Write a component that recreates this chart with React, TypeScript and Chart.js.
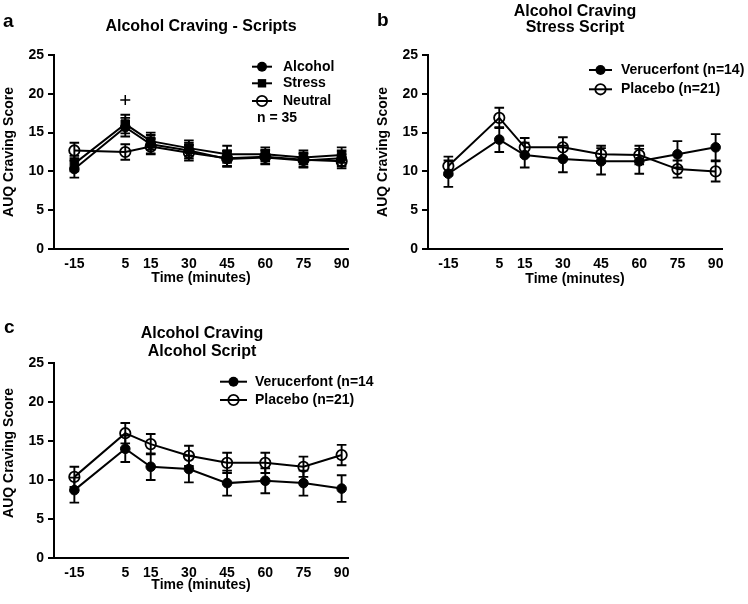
import React, { useEffect, useRef } from 'react';
import { Chart, registerables } from 'chart.js';

Chart.register(...registerables);

// ---------- data ----------
const timePoints = [-15, 5, 15, 30, 45, 60, 75, 90];
const xTickValues = [-15, 5, 15, 30, 45, 60, 75, 90];
const yMin = 0;
const yMax = 25;
const yStep = 5;

// Panel a: all scripts (n = 35)
const alcoholMean = [10.3, 15.7, 13.5, 12.7, 11.6, 11.8, 11.4, 11.7];
const alcoholSem = [1.1, 1.2, 1.2, 1.0, 1.0, 0.9, 0.9, 1.0];
const stressMean = [11.0, 16.1, 13.9, 13.0, 12.2, 12.2, 11.8, 12.1];
const stressSem = [1.0, 1.2, 1.1, 1.0, 1.1, 0.9, 0.9, 1.0];
const neutralMean = [12.7, 12.5, 13.2, 12.4, 11.7, 11.9, 11.5, 11.3];
const neutralSem = [1.0, 1.0, 1.0, 1.0, 1.0, 0.9, 0.9, 0.9];
const sigTimes = [5];
const sigValues = [19.2];

// Panel b: stress script
const stressVeruMean = [9.7, 14.1, 12.1, 11.6, 11.3, 11.3, 12.2, 13.1];
const stressVeruSem = [1.7, 1.6, 1.6, 1.7, 1.7, 1.6, 1.7, 1.7];
const stressPlaMean = [10.7, 16.9, 13.1, 13.1, 12.2, 12.1, 10.3, 10.0];
const stressPlaSem = [1.2, 1.3, 1.2, 1.3, 1.1, 1.2, 1.1, 1.3];

// Panel c: alcohol script
const alcVeruMean = [8.7, 14.0, 11.7, 11.4, 9.6, 9.9, 9.6, 8.9];
const alcVeruSem = [1.6, 1.7, 1.7, 1.7, 1.6, 1.6, 1.6, 1.7];
const alcPlaMean = [10.4, 16.0, 14.6, 13.1, 12.2, 12.2, 11.7, 13.2];
const alcPlaSem = [1.3, 1.3, 1.3, 1.3, 1.3, 1.3, 1.3, 1.3];

// ---------- helpers ----------
const FONT = '"Liberation Sans", Arial, Helvetica, sans-serif';

const toPoints = (ys: number[]) => timePoints.map((t, i) => ({ x: t, y: ys[i] }));

function series(label: string, mean: number[], sem: number[], style: 'circle' | 'rect', filled: boolean) {
  return {
    label,
    data: toPoints(mean),
    errorBars: sem,
    borderColor: '#000',
    borderWidth: 2,
    fill: false,
    tension: 0,
    pointStyle: style,
    pointRadius: style === 'rect' ? 6 : filled ? 4.8 : 5.2,
    pointBorderWidth: filled ? 1 : 1.8,
    pointBackgroundColor: filled ? '#000' : 'rgba(255,255,255,0)',
    pointBorderColor: '#000',
    legendStyle: style,
    legendFilled: filled,
  };
}

type PanelSpec = {
  left: number;
  top: number;
  width: number;
  height: number;
  area: { left: number; top: number; right: number; bottom: number };
  letter: string;
  letterX: number;
  letterY: number;
  titleLines: string[];
  titleX: number;
  titleYs: number[];
  yTitleX: number;
  yTitleY: number;
  xTitleX: number;
  xTitleY: number;
  legend: { x1: number; x2: number; textX: number; ys: number[]; note?: { text: string; x: number; y: number } };
  datasets: any[];
};

const errorBarPlugin = {
  id: 'errorBars',
  afterDatasetsDraw(chart: any) {
    const ctx = chart.ctx;
    const xs = chart.scales.x;
    const ys = chart.scales.y;
    ctx.save();
    ctx.strokeStyle = '#000';
    ctx.lineWidth = 1.9;
    chart.data.datasets.forEach((ds: any) => {
      if (!ds.errorBars) return;
      ds.data.forEach((p: any, i: number) => {
        const e = ds.errorBars[i];
        const px = xs.getPixelForValue(p.x);
        const yt = ys.getPixelForValue(p.y + e);
        const yb = ys.getPixelForValue(p.y - e);
        const cap = 4.8;
        ctx.beginPath();
        ctx.moveTo(px, yt);
        ctx.lineTo(px, yb);
        ctx.moveTo(px - cap, yt);
        ctx.lineTo(px + cap, yt);
        ctx.moveTo(px - cap, yb);
        ctx.lineTo(px + cap, yb);
        ctx.stroke();
      });
    });
    ctx.restore();
  },
};

function decorPlugin(spec: PanelSpec) {
  return {
    id: 'panelDecor',
    afterDraw(chart: any) {
      const ctx = chart.ctx;
      ctx.save();
      ctx.fillStyle = '#000';
      ctx.strokeStyle = '#000';
      // panel letter
      ctx.font = `bold 19px ${FONT}`;
      ctx.textAlign = 'left';
      ctx.textBaseline = 'alphabetic';
      ctx.fillText(spec.letter, spec.letterX, spec.letterY);
      // title
      ctx.font = `bold 16px ${FONT}`;
      ctx.textAlign = 'center';
      spec.titleLines.forEach((t, i) => ctx.fillText(t, spec.titleX, spec.titleYs[i]));
      // axis titles
      ctx.font = `bold 14px ${FONT}`;
      ctx.textBaseline = 'middle';
      ctx.fillText('Time (minutes)', spec.xTitleX, spec.xTitleY);
      ctx.save();
      ctx.translate(spec.yTitleX, spec.yTitleY);
      ctx.rotate(-Math.PI / 2);
      ctx.fillText('AUQ Craving Score', 0, 0);
      ctx.restore();
      // legend
      const lg = spec.legend;
      let k = 0;
      chart.data.datasets.forEach((ds: any) => {
        if (!ds.legendStyle) return;
        const y = lg.ys[k++];
        ctx.lineWidth = 2;
        ctx.beginPath();
        ctx.moveTo(lg.x1, y);
        ctx.lineTo(lg.x2, y);
        ctx.stroke();
        const cx = (lg.x1 + lg.x2) / 2;
        if (ds.legendStyle === 'rect') {
          ctx.fillRect(cx - 4.2, y - 4.2, 8.4, 8.4);
        } else if (ds.legendFilled) {
          ctx.beginPath();
          ctx.arc(cx, y, 5, 0, Math.PI * 2);
          ctx.fill();
        } else {
          ctx.lineWidth = 1.8;
          ctx.beginPath();
          ctx.arc(cx, y, 5.2, 0, Math.PI * 2);
          ctx.stroke();
        }
        ctx.textAlign = 'left';
        ctx.textBaseline = 'middle';
        ctx.fillText(ds.label, lg.textX, y);
      });
      if (lg.note) {
        ctx.textAlign = 'left';
        ctx.fillText(lg.note.text, lg.note.x, lg.note.y);
      }
      ctx.restore();
    },
  };
}

const tickFont = { family: FONT, size: 14, weight: 'bold' as const };

function Panel({ spec }: { spec: PanelSpec }) {
  const ref = useRef<HTMLCanvasElement | null>(null);
  useEffect(() => {
    if (!ref.current) return;
    const a = spec.area;
    const chart = new Chart(ref.current, {
      type: 'line',
      data: { datasets: spec.datasets },
      options: {
        responsive: false,
        maintainAspectRatio: false,
        animation: false,
        devicePixelRatio: 1,
        layout: { padding: { top: a.top, right: spec.width - a.right, bottom: 0, left: 0 } },
        plugins: {
          legend: { display: false },
          title: { display: false },
          tooltip: { enabled: false },
        },
        scales: {
          x: {
            type: 'linear',
            min: -23,
            max: 92.5,
            afterBuildTicks: (s: any) => {
              s.ticks = xTickValues.map((v) => ({ value: v }));
            },
            afterFit: (s: any) => {
              s.height = spec.height - a.bottom;
            },
            grid: { display: false, drawTicks: false },
            border: { display: true, color: '#000', width: 2 },
            ticks: {
              autoSkip: false,
              maxRotation: 0,
              padding: 7,
              color: '#000',
              font: tickFont,
              callback: (v: any) => String(v),
            },
          },
          y: {
            min: yMin,
            max: yMax,
            afterFit: (s: any) => {
              s.width = a.left;
            },
            grid: { display: true, drawOnChartArea: false, drawTicks: true, tickLength: 6, color: '#000', lineWidth: 2 },
            border: { display: true, color: '#000', width: 2 },
            ticks: { stepSize: yStep, padding: 4, color: '#000', font: tickFont },
          },
        },
      } as any,
      plugins: [errorBarPlugin, decorPlugin(spec)],
    });
    return () => chart.destroy();
  }, [spec]);
  return (
    <canvas
      ref={ref}
      width={spec.width}
      height={spec.height}
      style={{ position: 'absolute', left: spec.left, top: spec.top, width: spec.width, height: spec.height }}
    />
  );
}

const sigDataset = {
  label: '+',
  data: sigTimes.map((t, i) => ({ x: t, y: sigValues[i] })),
  showLine: false,
  pointStyle: 'cross',
  pointRadius: 5,
  pointBorderWidth: 1.5,
  pointBorderColor: '#000',
  borderColor: '#000',
};

const panels: PanelSpec[] = [
  {
    left: 0,
    top: 0,
    width: 374,
    height: 300,
    area: { left: 54, top: 55, right: 348, bottom: 249 },
    letter: 'a',
    letterX: 3,
    letterY: 27,
    titleLines: ['Alcohol Craving - Scripts'],
    titleX: 201,
    titleYs: [31],
    yTitleX: 9.5,
    yTitleY: 152,
    xTitleX: 201,
    xTitleY: 278.5,
    legend: { x1: 252, x2: 272, textX: 283, ys: [66.7, 83.3, 101], note: { text: 'n = 35', x: 257, y: 118.3 } },
    datasets: [
      series('Alcohol', alcoholMean, alcoholSem, 'circle', true),
      series('Stress', stressMean, stressSem, 'rect', true),
      series('Neutral', neutralMean, neutralSem, 'circle', false),
      sigDataset,
    ],
  },
  {
    left: 374,
    top: 0,
    width: 374,
    height: 300,
    area: { left: 54, top: 55, right: 348, bottom: 249 },
    letter: 'b',
    letterX: 3,
    letterY: 26,
    titleLines: ['Alcohol Craving', 'Stress Script'],
    titleX: 201,
    titleYs: [16, 31.5],
    yTitleX: 9.5,
    yTitleY: 152,
    xTitleX: 201,
    xTitleY: 279,
    legend: { x1: 215, x2: 238, textX: 247, ys: [70, 89.3] },
    datasets: [
      series('Verucerfont (n=14)', stressVeruMean, stressVeruSem, 'circle', true),
      series('Placebo (n=21)', stressPlaMean, stressPlaSem, 'circle', false),
    ],
  },
  {
    left: 0,
    top: 300,
    width: 374,
    height: 304,
    area: { left: 54, top: 63, right: 348, bottom: 258 },
    letter: 'c',
    letterX: 4,
    letterY: 33,
    titleLines: ['Alcohol Craving', 'Alcohol Script'],
    titleX: 202,
    titleYs: [38, 56],
    yTitleX: 9.5,
    yTitleY: 153,
    xTitleX: 201,
    xTitleY: 285.5,
    legend: { x1: 220, x2: 247, textX: 255, ys: [81.7, 100] },
    datasets: [
      series('Verucerfont (n=14)', alcVeruMean, alcVeruSem, 'circle', true),
      series('Placebo (n=21)', alcPlaMean, alcPlaSem, 'circle', false),
    ],
  },
];

export default function App() {
  return (
    <div style={{ position: 'absolute', left: 0, top: 0, width: 748, height: 604, background: '#fff' }}>
      {panels.map((p, i) => (
        <Panel key={i} spec={p} />
      ))}
    </div>
  );
}
